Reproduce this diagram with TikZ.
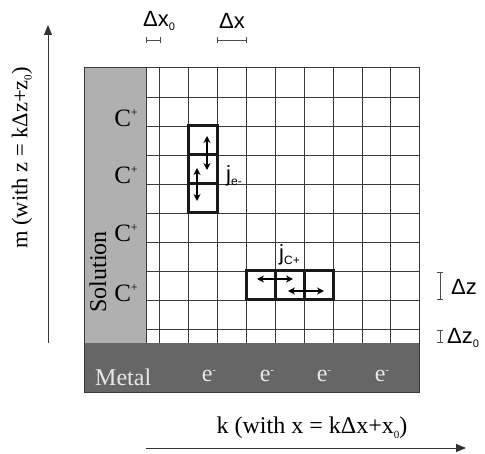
\documentclass[tikz,border=0pt]{standalone}
\usepackage{fontspec}
\setmainfont{Liberation Serif}
\setsansfont{Liberation Sans}
\usetikzlibrary{arrows.meta}
\definecolor{solgray}{HTML}{B0B0B0}
\definecolor{metgray}{HTML}{666666}
\definecolor{gridc}{HTML}{3A3A3A}
\definecolor{metaltext}{HTML}{E8E8E8}
\begin{document}
\begin{tikzpicture}[x=1pt,y=-1pt,
  serif/.style={font=\fontsize{24}{26}\selectfont, inner sep=0pt},
  sans/.style={font=\sffamily\fontsize{22}{24}\selectfont, inner sep=0pt},
  gridline/.style={draw=gridc, line width=0.9pt},
  thickbox/.style={draw=black!90, line width=3pt},
  flux/.style={{Stealth[length=7pt,width=7pt]}-{Stealth[length=7pt,width=7pt]}, line width=1.8pt},
  sizebar/.style={{Bar[width=6pt]}-{Bar[width=6pt]}, draw=black!70, line width=0.8pt},
  axis/.style={-{Triangle[length=10pt,width=8pt]}, draw=black!80, line width=0.9pt}]
\useasboundingbox (0,0) rectangle (485,454);
% regions
\fill[solgray] (84,67) rectangle (146,343);
\fill[metgray] (84,343) rectangle (419,392);
% grid
\foreach \x in {146,159,188,217,246,275,304,333,362,390,419}
  \draw[gridline] (\x,67) -- (\x,343);
\foreach \y in {97,126,155,184,213,242,271,300,329}
  \draw[gridline] (146,\y) -- (419,\y);
\draw[gridline] (84,67) -- (419,67);
\draw[gridline] (84,67) -- (84,392) -- (419,392) -- (419,343);
% thick cells
\draw[thickbox] (188,126) rectangle (217,184);
\draw[thickbox] (188,155) rectangle (217,213);
\draw[thickbox] (246,271) rectangle (304,300);
\draw[thickbox] (275,271) rectangle (333,300);
% flux arrows
\coordinate (a1) at (207,136); \coordinate (a2) at (207,170);
\coordinate (b1) at (197,168); \coordinate (b2) at (197,201);
\coordinate (c1) at (257,279); \coordinate (c2) at (293,279);
\coordinate (d1) at (288,291); \coordinate (d2) at (324,291);
\draw[flux] (a1) -- (a2);
\draw[flux] (b1) -- (b2);
\draw[flux] (c1) -- (c2);
\draw[flux] (d1) -- (d2);
\node[sans, anchor=west] (je) at (226,176) {j\raisebox{-0.35ex}{\fontsize{12}{12}\selectfont e-}};
\node[sans, anchor=west] (jc) at (279,255) {j\raisebox{-0.35ex}{\fontsize{12}{12}\selectfont C+}};
% C+ labels
\foreach \y/\n in {118/c1,175/c2,233/c3,293/c4}
  \node[serif, font=\fontsize{25}{27}\selectfont] (cp\n) at (126,\y) {C\raisebox{0.8ex}{\fontsize{12}{12}\selectfont +}};
\node[serif, rotate=90] (sol) at (98,272) {Solution};
% metal
\node[serif, text=metaltext, anchor=west] (metal) at (95,377) {Metal};
\foreach \x/\n in {209/1,267/2,324/3,382/4}
  \node[serif, text=metaltext] (e\n) at (\x,376) {e\raisebox{0.75ex}{\fontsize{11}{11}\selectfont -}};
% size bars
\coordinate (dx0a) at (146,40); \coordinate (dx0b) at (161,40);
\coordinate (dxa) at (217,40); \coordinate (dxb) at (247,40);
\draw[sizebar] (dx0a) -- (dx0b);
\draw[sizebar] (dxa) -- (dxb);
\node[sans] (ldx0) at (159,21) {Δx\raisebox{-0.4ex}{\fontsize{11}{11}\selectfont 0}};
\node[sans] (ldx) at (232,21) {Δx};
\coordinate (dza) at (440,272); \coordinate (dzb) at (440,300);
\coordinate (dz0a) at (440,330); \coordinate (dz0b) at (440,343);
\draw[sizebar] (dza) -- (dzb);
\draw[sizebar] (dz0a) -- (dz0b);
\node[sans, anchor=west] (ldz) at (451,287) {Δz};
\node[sans, anchor=west] (ldz0) at (447,338) {Δz\raisebox{-0.4ex}{\fontsize{11}{11}\selectfont 0}};
% axes
\coordinate (vy0) at (48,343); \coordinate (vy1) at (48,25);
\draw[axis] (vy0) -- (vy1);
\coordinate (hx0) at (146,448); \coordinate (hx1) at (466,448);
\draw[axis] (hx0) -- (hx1);
\node[serif, rotate=90, font=\fontsize{22.5}{24}\selectfont] (mlab) at (22,158) {m (with z = kΔz+z\raisebox{-0.4ex}{\fontsize{11}{11}\selectfont 0})};
\node[serif] (klab) at (312,428) {k (with x = kΔx+x\raisebox{-0.4ex}{\fontsize{11}{11}\selectfont 0})};
\end{tikzpicture}
\end{document}
